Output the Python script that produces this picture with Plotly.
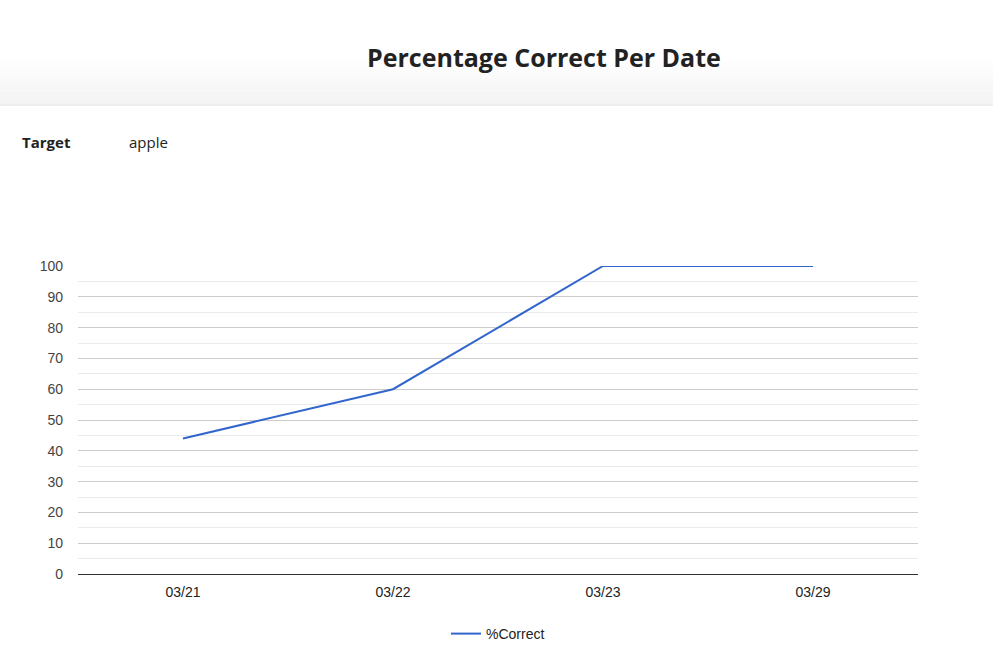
import plotly.graph_objects as go

dates = ["03/21", "03/22", "03/23", "03/29"]
pct_correct = [44, 60, 100, 100]
y_ticks = [0, 10, 20, 30, 40, 50, 60, 70, 80, 90, 100]

W, H = 993, 646
L, R, T, B = 78, 75, 266, 72
PW, PH = W - L - R, H - T - B

def px_x(px):
    return (px - L) / PW

def px_y(py):
    return (H - B - py) / PH

fig = go.Figure()
fig.add_trace(go.Scatter(
    x=dates, y=pct_correct, mode="lines", name="%Correct",
    line=dict(color="#3366cc", width=2), hoverinfo="x+y"))

shapes = []
# header gradient
n = 20
top, bot = 60, 104
for i in range(n):
    y0 = top + (bot - top) * i / n
    y1 = top + (bot - top) * (i + 1) / n
    g = int(255 - (255 - 243) * (i + 1) / n)
    c = f"rgb({g},{g},{g})"
    shapes.append(dict(type="rect", xref="paper", yref="paper",
                       x0=px_x(0), x1=px_x(W), y0=px_y(y1), y1=px_y(y0),
                       fillcolor=c, line=dict(width=0), layer="below"))
shapes.append(dict(type="line", xref="paper", yref="paper",
                   x0=px_x(0), x1=px_x(W), y0=px_y(105), y1=px_y(105),
                   line=dict(color="#dcdcdc", width=1)))

annotations = [
    dict(text="<b>Percentage Correct Per Date</b>", xref="paper", yref="paper",
         x=px_x(544), y=px_y(57), xanchor="center", yanchor="middle",
         showarrow=False, font=dict(family="Open Sans", size=25, color="#222")),
    dict(text="<b>Target</b>", xref="paper", yref="paper",
         x=px_x(20), y=px_y(142), xanchor="left", yanchor="middle",
         showarrow=False, font=dict(family="Open Sans", size=15, color="#222")),
    dict(text="apple", xref="paper", yref="paper",
         x=px_x(127), y=px_y(142), xanchor="left", yanchor="middle",
         showarrow=False, font=dict(family="Open Sans", size=15, color="#222")),
]

fig.update_layout(
    width=W, height=H,
    margin=dict(l=L, r=R, t=T, b=B, pad=0, autoexpand=False),
    paper_bgcolor="white", plot_bgcolor="white",
    font=dict(family="Arial, Liberation Sans", size=14, color="#444"),
    shapes=shapes, annotations=annotations,
    showlegend=True,
    legend=dict(orientation="h", x=0.5, xanchor="center", y=px_y(634), yanchor="middle",
                font=dict(family="Arial, Liberation Sans", size=14, color="#222"),
                itemwidth=30),
    xaxis=dict(type="category", range=[-0.5, 3.5], showgrid=False, zeroline=False,
               showline=True, linecolor="#333", linewidth=1, ticks="",
               ticklabelstandoff=5,
               tickfont=dict(size=14, color="#222"), fixedrange=True),
    yaxis=dict(range=[0, 100], tickvals=y_ticks, showgrid=True, gridcolor="#cccccc",
               gridwidth=1, zeroline=False, showline=False, ticks="",
               ticklabelstandoff=14,
               minor=dict(dtick=5, showgrid=True, gridcolor="#ebebeb", gridwidth=1),
               tickfont=dict(size=14, color="#444"), fixedrange=True),
)

fig.write_html("out.html", config={"displayModeBar": False},
               post_script="document.body.style.margin='0';document.body.style.overflow='hidden';")
